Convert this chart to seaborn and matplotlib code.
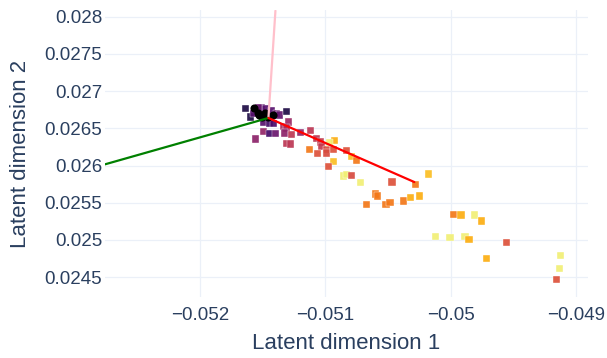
import matplotlib
matplotlib.use("Agg")
import matplotlib.pyplot as plt
import seaborn as sns
import pandas as pd
import numpy as np

# ---- data ----
pt_x = [-0.051635, -0.051601, -0.051575, -0.051508, -0.051481, -0.051537, -0.051428, -0.051393,
        -0.051367, -0.051314, -0.051495, -0.051447, -0.051415, -0.051495, -0.051447, -0.051401,
        -0.051561,
        -0.051335, -0.051295, -0.051308, -0.051330, -0.051274, -0.051308, -0.051282, -0.051196,
        -0.051122, -0.051069, -0.051037, -0.051029, -0.050989, -0.050994, -0.050936, -0.050928,
        -0.051128, -0.051064, -0.050968, -0.050835, -0.050789, -0.050755, -0.050936, -0.050978,
        -0.050856, -0.050829, -0.050789, -0.050717, -0.050468, -0.050284, -0.050178, -0.050603,
        -0.050582, -0.050675, -0.050516, -0.050484, -0.050377, -0.050324, -0.050250, -0.049978,
        -0.049917, -0.049813, -0.049755, -0.050124, -0.050005, -0.049885, -0.049853, -0.049552,
        -0.049717, -0.049121, -0.049127, -0.049153]
pt_y = [0.026769, 0.026652, 0.026702, 0.026782, 0.026759, 0.026773, 0.026733, 0.026702,
        0.026679, 0.026723, 0.026575, 0.026571, 0.026567, 0.026454, 0.026433, 0.026433,
        0.026356,
        0.026521, 0.026585, 0.026504, 0.026437, 0.026414, 0.026302, 0.026289, 0.026446,
        0.026473, 0.026360, 0.026316, 0.026258, 0.026212, 0.026168, 0.026212, 0.026333,
        0.026212, 0.026159, 0.026306, 0.026199, 0.026118, 0.026065, 0.026051, 0.025984,
        0.025859, 0.025882, 0.025872, 0.025774, 0.025778, 0.025747, 0.025886, 0.025617,
        0.025590, 0.025482, 0.025482, 0.025500, 0.025523, 0.025573, 0.025590, 0.025344,
        0.025335, 0.025335, 0.025254, 0.025043, 0.025030, 0.025043, 0.025008, 0.024962,
        0.024747, 0.024793, 0.024622, 0.024474]
pt_val = [0.12, 0.12, 0.25, 0.28, 0.25, 0.30, 0.25, 0.30,
          0.28, 0.12, 0.25, 0.20, 0.22, 0.40, 0.20, 0.30,
          0.38,
          0.45, 0.42, 0.45, 0.38, 0.50, 0.50, 0.50, 0.40,
          0.50, 0.50, 0.52, 0.52, 0.58, 0.58, 0.60, 0.82,
          0.70, 0.60, 0.95, 0.60, 0.85, 0.70, 0.85, 0.60,
          0.95, 0.95, 0.58, 0.95, 0.60, 0.70, 0.85, 0.70,
          0.70, 0.70, 0.70, 0.70, 0.70, 0.82, 0.82, 0.70,
          0.82, 0.95, 0.82, 0.95, 0.95, 0.95, 0.82, 0.60,
          0.82, 0.95, 0.95, 0.60]

circ_x = [-0.051569, -0.051527, -0.051481, -0.051508, -0.051415, -0.051457, -0.051540]
circ_y = [0.026769, 0.026679, 0.026702, 0.026656, 0.026679, 0.026652, 0.026700]

origin = (-0.051455, 0.026639)
line_names = ["pink", "green", "red"]
line_end_x = [-0.051399, -0.052760, -0.050290]
line_end_y = [0.028080, 0.026016, 0.025778]

xticks = [-0.052, -0.051, -0.050, -0.049]
xtick_labels = ["\u22120.052", "\u22120.051", "\u22120.05", "\u22120.049"]
yticks = [0.0245, 0.025, 0.0255, 0.026, 0.0265, 0.027, 0.0275, 0.028]
ytick_labels = ["0.0245", "0.025", "0.0255", "0.026", "0.0265", "0.027", "0.0275", "0.028"]

# ---- style ----
sns.set_theme(style="white")
plt.rcParams["font.family"] = ["Liberation Sans", "DejaVu Sans"]
txt = "#2a3f5f"

fig = plt.figure(figsize=(6.07, 3.58), dpi=100)
ax = fig.add_axes([105 / 607, 1 - 297 / 358, 483 / 607, 287 / 358])

df = pd.DataFrame({"x": pt_x, "y": pt_y, "v": pt_val})
sns.scatterplot(data=df, x="x", y="y", hue="v", palette="inferno", hue_norm=(0, 1),
                marker="s", s=26, edgecolor="white", linewidth=0.3, alpha=0.92,
                legend=False, ax=ax, zorder=3)
sns.scatterplot(x=circ_x, y=circ_y, color="black", marker="o", s=34, linewidth=0,
                legend=False, ax=ax, zorder=4)

for name, ex, ey in zip(line_names, line_end_x, line_end_y):
    ldf = pd.DataFrame({"x": [origin[0], ex], "y": [origin[1], ey]})
    sns.lineplot(data=ldf, x="x", y="y", sort=False, color=name, linewidth=1.6,
                 ax=ax, zorder=5)

ax.set_xlim(-0.05276, -0.048903)
ax.set_ylim(0.024233, 0.02809)
ax.set_xticks(xticks)
ax.set_xticklabels(xtick_labels)
ax.set_yticks(yticks)
ax.set_yticklabels(ytick_labels)
ax.grid(True, color="#ebf0f8", linewidth=0.9)
ax.set_axisbelow(True)
for sp in ax.spines.values():
    sp.set_visible(False)
ax.tick_params(axis="both", length=0, labelsize=13.5, colors=txt)
ax.tick_params(axis="x", pad=7)
ax.tick_params(axis="y", pad=2)
ax.set_xlabel("Latent dimension 1", fontsize=16, color=txt, labelpad=7)
ax.set_ylabel("Latent dimension 2", fontsize=16, color=txt, labelpad=10)

fig.savefig("out.png", dpi=100)
